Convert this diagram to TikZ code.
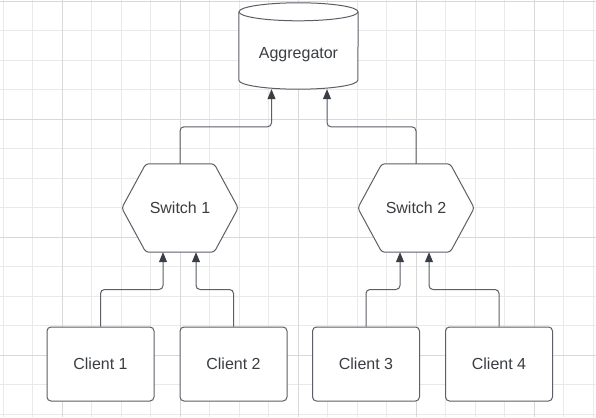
\documentclass[tikz,border=0pt]{standalone}
\usepackage{fontspec}
\setmainfont{Liberation Sans}
\usetikzlibrary{arrows.meta}

\definecolor{edge}{HTML}{5C5F66}
\definecolor{tip}{HTML}{3A3F47}
\definecolor{ink}{HTML}{3A3D42}
\definecolor{minorgrid}{HTML}{E9E9E9}
\definecolor{majorgrid}{HTML}{D8D8D8}

\tikzset{
 label/.style={text=ink, font=\fontsize{16}{19}\selectfont},
 client/.style={label, draw=edge, fill=white, line width=1pt, rounded corners=4pt,
   minimum width=107pt, minimum height=74pt},
 switch/.style={label, minimum width=116pt, minimum height=88pt},
 store/.style={label, minimum width=119pt, minimum height=86pt},
 link/.style={draw=edge, line width=1pt, rounded corners=4pt,
   -{Triangle[length=10pt,width=8pt,color=tip]}}
}

\begin{document}
\begin{tikzpicture}[x=1pt,y=-1pt]

\newcommand{\hexa}[1] % node name
{
 \draw[edge, fill=white, line width=1pt, rounded corners=3pt] (#1.west)
   -- ([xshift=24pt]#1.north west) -- ([xshift=-24pt]#1.north east)
   -- (#1.east)
   -- ([xshift=-24pt]#1.south east) -- ([xshift=24pt]#1.south west)
   -- cycle;
}

\useasboundingbox (0,0) rectangle (596,417);
\fill[white] (0,0) rectangle (596,417);

% grid
\foreach \i in {0,...,20}
 \draw[minorgrid, line width=0.8pt] ({3+29.5*\i},0) -- ({3+29.5*\i},417);
\foreach \j in {0,...,14}
 \draw[minorgrid, line width=0.8pt] (0,{1+29.5*\j}) -- (596,{1+29.5*\j});
\foreach \i in {62,180,298,416,534}
 \draw[majorgrid, line width=0.8pt] (\i,0) -- (\i,417);
\foreach \j in {1,119,237,355}
 \draw[majorgrid, line width=0.8pt] (0,\j) -- (596,\j);

% aggregator
\node[store] (agg) at (298.5,46) {};
\def\rx{59.5pt} \def\ry{9pt}
\draw[edge, fill=white, line width=1pt] ([yshift=-\ry]agg.north west)
  -- ([yshift=\ry]agg.south west)
  arc[start angle=180, end angle=360, x radius=\rx, y radius=\ry]
  -- ([yshift=-\ry]agg.north east);
\draw[edge, fill=white, line width=1pt] ([yshift=-\ry]agg.north)
  ellipse[x radius=\rx, y radius=\ry];
\node[label] at ([yshift=-9pt]agg.center) {Aggregator};

% switches
\node[switch] (sw1) at (180,208) {};
\node[switch] (sw2) at (416,208) {};
\hexa{sw1} \hexa{sw2}
\node[label] at (sw1) {Switch 1};
\node[label] at (sw2) {Switch 2};

% clients
\node[client] (c1) at (100.5,364) {Client 1};
\node[client] (c2) at (233.5,364) {Client 2};
\node[client] (c3) at (366,364) {Client 3};
\node[client] (c4) at (499,364) {Client 4};

\draw[link] (c1.north) -- ++(0,-37) -| ([xshift=-17pt]sw1.south);
\draw[link] (c2.north) -- ++(0,-37) -| ([xshift=16pt]sw1.south);
\draw[link] (c3.north) -- ++(0,-37) -| ([xshift=-16pt]sw2.south);
\draw[link] (c4.north) -- ++(0,-37) -| ([xshift=13pt]sw2.south);

\draw[link] (sw1.north) -- ++(0,-37) -| ([xshift=-27pt]agg.south);
\draw[link] (sw2.north) -- ++(0,-37) -| ([xshift=28.5pt]agg.south);

\end{tikzpicture}
\end{document}
